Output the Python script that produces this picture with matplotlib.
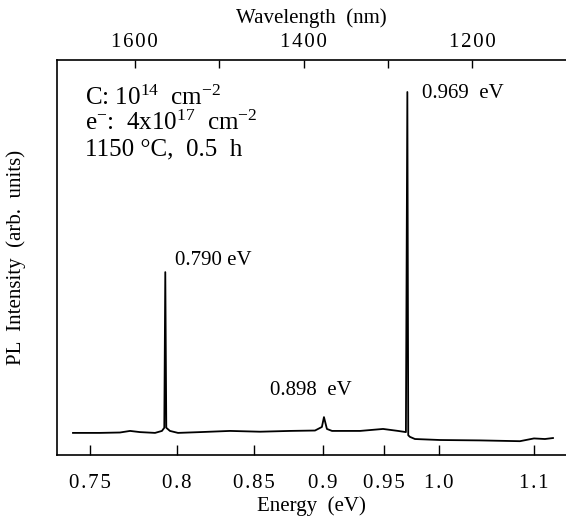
import matplotlib

matplotlib.use("Agg")
import matplotlib.pyplot as plt
import numpy as np

# PL spectrum (energy in eV, intensity in arb. units)
energy = [0.741, 0.7554, 0.7665, 0.7722, 0.7779, 0.7867, 0.7908, 0.7922, 0.7928,
          0.7934, 0.7956, 0.8005, 0.8142, 0.8337, 0.8541, 0.8755, 0.8942, 0.8995,
          0.9011, 0.9034, 0.9074, 0.930, 0.9494, 0.9625, 0.9695, 0.9708, 0.9716,
          0.9731, 0.9777, 1.0011, 1.0409, 1.0840, 1.1000, 1.1128, 1.1224]
intensity = [5.6, 5.6, 5.7, 6.1, 5.8, 5.6, 6.1, 6.9, 46.3,
             6.9, 6.1, 5.6, 5.8, 6.1, 5.9, 6.1, 6.2, 7.1,
             9.6, 6.6, 6.1, 6.1, 6.6, 6.1, 5.8, 91.9, 5.0,
             4.6, 4.05, 3.8, 3.7, 3.5, 4.2, 4.05, 4.3]

ev_ticks = [0.75, 0.8, 0.85, 0.9, 0.95, 1.0, 1.1]
ev_labels = ["0.75", "0.8", "0.85", "0.9", "0.95", "1.0", "1.1"]
wl_ticks = [1600, 1500, 1400, 1300, 1200]
wl_labels = ["1600", "", "1400", "", "1200"]

peak_labels = ["0.790 eV", "0.898  eV", "0.969  eV"]
peak_label_x = [0.7987, 0.8611, 0.9842]
peak_label_y = [48.1, 15.2, 90.4]

sample_lines = ["C: $10^{14}$  cm$^{-2}$",
                "e$^{-}$:  4x$10^{17}$  cm$^{-2}$",
                "1150 °C,  0.5  h"]

HC = 1239.84
E_MIN, E_MAX = 0.7327, 1.1383

plt.rcParams["font.family"] = ["Liberation Serif", "DejaVu Serif"]
plt.rcParams["mathtext.fontset"] = "custom"
plt.rcParams["mathtext.rm"] = "Liberation Serif"
plt.rcParams["mathtext.it"] = "Liberation Serif:italic"


def spaced(s):
    # the scan's typesetting has slightly wide letter spacing
    return "\u200a".join(s)


recip = (lambda e: -1.0 / np.asarray(e, dtype=float),
         lambda v: -1.0 / np.asarray(v, dtype=float))

fig = plt.figure(figsize=(5.66, 5.25), dpi=100)
fig.patch.set_facecolor("white")
ax = fig.add_axes([0.1007, 0.1333, 0.8993, 0.7524])

ax.set_xscale("function", functions=recip)
ax.plot(energy, intensity, color="black", lw=1.3)
ax.set_xlim(E_MIN, E_MAX)
ax.set_ylim(0, 100)

ax.set_xticks(ev_ticks)
ax.set_xticklabels([spaced(s) for s in ev_labels])
ax.xaxis.set_minor_locator(matplotlib.ticker.NullLocator())
ax.tick_params(axis="x", direction="in", length=7, width=1, labelsize=15, pad=14)
ax.set_yticks([])
ax.set_xlabel("Energy  (eV)", fontsize=15, labelpad=2)
ax.set_ylabel("PL  Intensity  (arb.  units)", fontsize=15, labelpad=22)
ax.spines["right"].set_visible(False)
ax.spines["top"].set_visible(False)
for s in ("left", "bottom"):
    ax.spines[s].set_linewidth(1.2)

# top wavelength axis, same reciprocal scale
top = ax.twiny()
top.set_xscale("function", functions=recip)
top.set_xlim(E_MIN, E_MAX)
top.set_xticks([HC / w for w in wl_ticks])
top.set_xticklabels([spaced(s) for s in wl_labels])
top.xaxis.set_minor_locator(matplotlib.ticker.NullLocator())
top.tick_params(axis="x", direction="in", length=6, width=1, labelsize=15, pad=6)
top.set_xlabel("Wavelength  (nm)", fontsize=15, labelpad=7)
top.spines["right"].set_visible(False)
top.spines["left"].set_visible(False)
top.spines["bottom"].set_visible(False)
top.spines["top"].set_linewidth(1.2)
top.set_yticks([])

for txt, x, y in zip(peak_labels, peak_label_x, peak_label_y):
    ax.text(x, y, txt, fontsize=15, va="baseline", ha="left")

for i, line in enumerate(sample_lines):
    ax.text(0.055, 0.886 - i * 0.064, line, transform=ax.transAxes,
            fontsize=18, va="baseline", ha="left")

fig.savefig("out.png", dpi=100, facecolor="white")
